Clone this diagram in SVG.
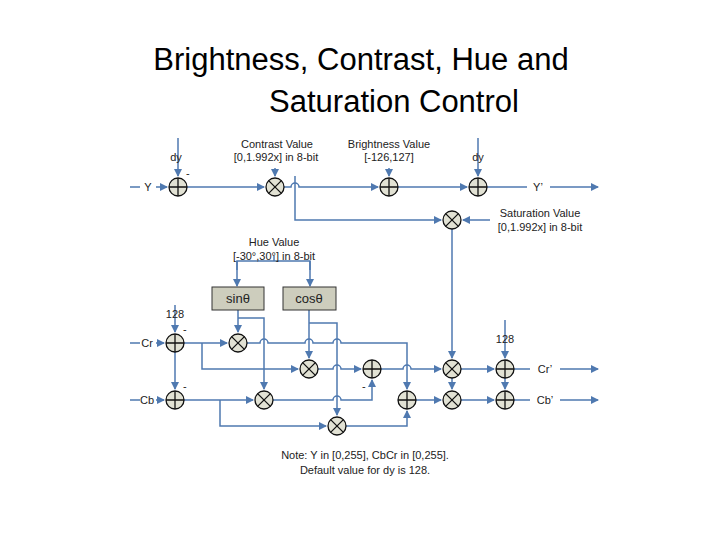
<svg xmlns="http://www.w3.org/2000/svg" width="720" height="540" viewBox="0 0 720 540">
<style>
.t{font-family:"Liberation Sans",Arial,sans-serif;font-size:11px;fill:#222}
.ttl{font-family:"Liberation Sans",Arial,sans-serif;font-size:31px;fill:#000}
.w{fill:none;stroke:#4f79b0;stroke-width:1.5}
.c{fill:#e2e2d4;stroke:#111;stroke-width:1.3}
.s{stroke:#111;stroke-width:1.3}
.b{fill:#cdcdbd;stroke:#333;stroke-width:1}
</style>
<defs>
<marker id="a" markerWidth="8" markerHeight="8" refX="7" refY="4" orient="auto" markerUnits="userSpaceOnUse"><path d="M0,0L8,4L0,8z" fill="#4f79b0"/></marker>
<g id="add"><circle r="9" class="c"/><path d="M-9,0H9M0,-9V9" class="s"/></g>
<g id="mul"><circle r="9" class="c"/><path d="M-6.4,-6.4L6.4,6.4M-6.4,6.4L6.4,-6.4" class="s"/></g>
</defs>
<rect width="720" height="540" fill="#fff"/>
<text class="ttl" x="361" y="70" text-anchor="middle">Brightness, Contrast, Hue and</text>
<text class="ttl" x="394" y="112" text-anchor="middle">Saturation Control</text>
<g id="connectors">
<path class="w" d="M130,187H140M156,187H167" marker-end="url(#a)"/>
<path class="w" d="M178,138V176" marker-end="url(#a)"/>
<path class="w" d="M187,187H264" marker-end="url(#a)"/>
<path class="w" d="M275,168V176" marker-end="url(#a)"/>
<path class="w" d="M284,187H291A4,4 0 0 1 299,187H378" marker-end="url(#a)"/>
<path class="w" d="M389,168V176" marker-end="url(#a)"/>
<path class="w" d="M398,187H467" marker-end="url(#a)"/>
<path class="w" d="M478,138V176" marker-end="url(#a)"/>
<path class="w" d="M487,187H527"/>
<path class="w" d="M550,187H598" marker-end="url(#a)"/>
<path class="w" d="M295,176V220H441" marker-end="url(#a)"/>
<path class="w" d="M490,220H463" marker-end="url(#a)"/>
<path class="w" d="M452,229V358" marker-end="url(#a)"/>
<path class="w" d="M274,256V261M237,270V261H310V270" />
<path class="w" d="M237,261V286" marker-end="url(#a)"/>
<path class="w" d="M310,261V286" marker-end="url(#a)"/>
<!-- Cr path -->
<path class="w" d="M130,343H140M156,343H164" marker-end="url(#a)"/>
<path class="w" d="M175,305V332" marker-end="url(#a)"/>
<path class="w" d="M184,343H227" marker-end="url(#a)"/>
<path class="w" d="M175,352V389" marker-end="url(#a)"/>
<path class="w" d="M238,310V332" marker-end="url(#a)"/>
<path class="w" d="M202,343V369H298" marker-end="url(#a)"/>
<path class="w" d="M238,318H264V389" marker-end="url(#a)"/>
<path class="w" d="M309,310V358" marker-end="url(#a)"/>
<path class="w" d="M309,323H337V415" marker-end="url(#a)"/>
<path class="w" d="M247,343H260A4,4 0 0 1 268,343H305A4,4 0 0 1 313,343H333A4,4 0 0 1 341,343H407V389" marker-end="url(#a)"/>
<path class="w" d="M318,369H333A4,4 0 0 1 341,369H361" marker-end="url(#a)"/>
<path class="w" d="M381,369H403A4,4 0 0 1 411,369H441" marker-end="url(#a)"/>
<!-- Cb path -->
<path class="w" d="M130,400H140M156,400H164" marker-end="url(#a)"/>
<path class="w" d="M184,400H253" marker-end="url(#a)"/>
<path class="w" d="M220,400V426H326" marker-end="url(#a)"/>
<path class="w" d="M273,400H333A4,4 0 0 1 341,400H372V380" marker-end="url(#a)"/>
<path class="w" d="M346,426H407V411" marker-end="url(#a)"/>
<path class="w" d="M416,400H441" marker-end="url(#a)"/>
<path class="w" d="M452,378V389" marker-end="url(#a)"/>
<path class="w" d="M461,369H494" marker-end="url(#a)"/>
<path class="w" d="M461,400H494" marker-end="url(#a)"/>
<path class="w" d="M505,320V358" marker-end="url(#a)"/>
<path class="w" d="M505,378V389" marker-end="url(#a)"/>
<path class="w" d="M514,369H530M560,369H598" marker-end="url(#a)"/>
<path class="w" d="M514,400H530M560,400H598" marker-end="url(#a)"/>
</g>
<g id="nodes">
<g id="addY1"><use href="#add" x="178" y="187"/></g>
<g id="mulC"><use href="#mul" x="275" y="187"/></g>
<g id="addB"><use href="#add" x="389" y="187"/></g>
<g id="addY2"><use href="#add" x="478" y="187"/></g>
<g id="mulS"><use href="#mul" x="452" y="220"/></g>
<g id="sin"><rect class="b" x="212" y="287" width="52" height="23"/><text class="t" x="238" y="303" text-anchor="middle" style="font-size:13px">sinθ</text></g>
<g id="cos"><rect class="b" x="283" y="287" width="53" height="23"/><text class="t" x="309" y="303" text-anchor="middle" style="font-size:13px">cosθ</text></g>
<g id="addCr"><use href="#add" x="175" y="343"/></g>
<g id="addCb"><use href="#add" x="175" y="400"/></g>
<g id="m1"><use href="#mul" x="238" y="343"/></g>
<g id="m2"><use href="#mul" x="309" y="369"/></g>
<g id="m3"><use href="#mul" x="264" y="400"/></g>
<g id="m4"><use href="#mul" x="337" y="426"/></g>
<g id="a1"><use href="#add" x="372" y="369"/></g>
<g id="a2"><use href="#add" x="407" y="400"/></g>
<g id="ms1"><use href="#mul" x="452" y="369"/></g>
<g id="ms2"><use href="#mul" x="452" y="400"/></g>
<g id="af1"><use href="#add" x="505" y="369"/></g>
<g id="af2"><use href="#add" x="505" y="400"/></g>
</g>
<g id="labels" class="t">
<text x="176" y="161" text-anchor="middle">dy</text>
<text x="186" y="177">-</text>
<text x="148" y="191" text-anchor="middle">Y</text>
<text x="277" y="148" text-anchor="middle">Contrast Value</text>
<text x="276" y="161" text-anchor="middle">[0,1.992x] in 8-bit</text>
<text x="389" y="148" text-anchor="middle">Brightness Value</text>
<text x="389" y="161" text-anchor="middle">[-126,127]</text>
<text x="478" y="161" text-anchor="middle">dy</text>
<text x="538" y="191" text-anchor="middle">Y’</text>
<text x="540" y="217" text-anchor="middle">Saturation Value</text>
<text x="540" y="231" text-anchor="middle">[0,1.992x] in 8-bit</text>
<text x="274" y="246" text-anchor="middle">Hue Value</text>
<text x="274" y="260" text-anchor="middle">[-30°,30°] in 8-bit</text>
<text x="175" y="318" text-anchor="middle">128</text>
<text x="183" y="333">-</text>
<text x="147" y="347" text-anchor="middle">Cr</text>
<text x="183" y="390">-</text>
<text x="147" y="404" text-anchor="middle">Cb</text>
<text x="362" y="390">-</text>
<text x="505" y="343" text-anchor="middle">128</text>
<text x="545" y="373" text-anchor="middle">Cr’</text>
<text x="545" y="404" text-anchor="middle">Cb’</text>
<text x="365" y="459" text-anchor="middle">Note: Y in [0,255], CbCr in [0,255].</text>
<text x="365" y="474" text-anchor="middle">Default value for dy is 128.</text>
</g>
</svg>
